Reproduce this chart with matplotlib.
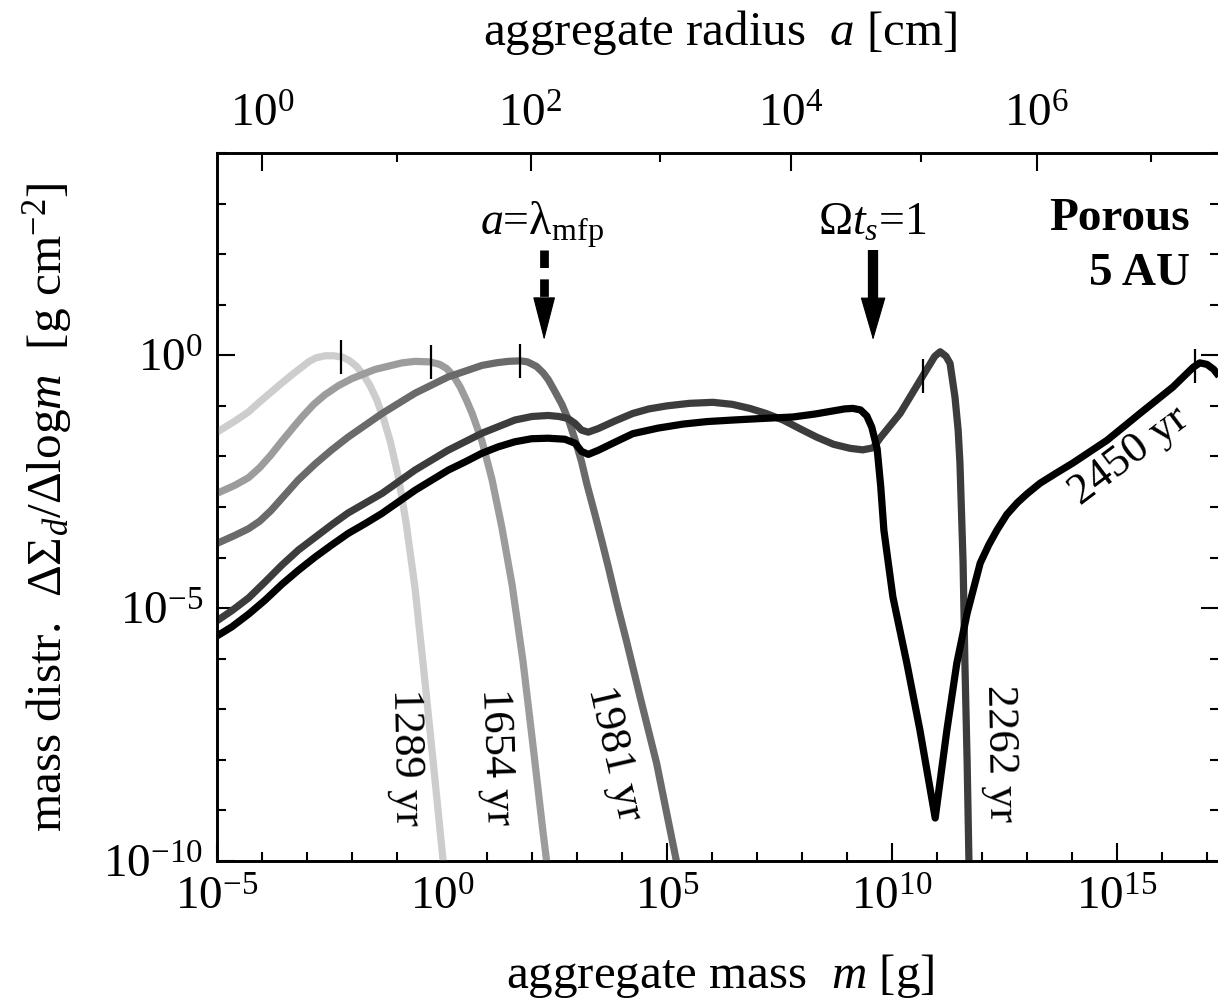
import numpy as np
import matplotlib
matplotlib.use('Agg')
import matplotlib.pyplot as plt
from matplotlib.ticker import FixedLocator, NullFormatter

plt.rcParams['font.family'] = ['Liberation Serif', 'DejaVu Serif']
plt.rcParams['mathtext.fontset'] = 'custom'
plt.rcParams['mathtext.rm'] = 'Liberation Serif'
plt.rcParams['mathtext.it'] = 'Liberation Serif:italic'
plt.rcParams['mathtext.bf'] = 'Liberation Serif:bold'

# ---------------- data (log10 values) ----------------
logm_1289 = [-5.0, -4.6, -4.3, -4.05, -3.8, -3.56, -3.3, -3.11, -2.95, -2.8, -2.6, -2.4, -2.2,
             -2.05, -1.9, -1.75, -1.6, -1.45, -1.3, -1.15, -0.97, -0.8, -0.6, -0.42, -0.2, 0.0, 0.12]
logy_1289 = [-1.52, -1.3, -1.12, -0.92, -0.73, -0.55, -0.36, -0.23, -0.12, -0.05, -0.01, -0.01,
             -0.04, -0.11, -0.22, -0.38, -0.6, -0.88, -1.25, -1.7, -2.4, -3.3, -4.6, -6.1, -8.0,
             -9.78, -10.8]

logm_1654 = [-5.0, -4.6, -4.3, -4.05, -3.8, -3.56, -3.3, -3.11, -2.85, -2.6, -2.3, -2.0, -1.49,
             -0.89, -0.6, -0.27, -0.05, 0.1, 0.25, 0.4, 0.55, 0.67, 0.89, 1.11, 1.33, 1.56, 1.8,
             2.02, 2.24, 2.38]
logy_1654 = [-2.73, -2.57, -2.42, -2.22, -1.97, -1.7, -1.42, -1.22, -0.97, -0.78, -0.6, -0.46,
             -0.28, -0.15, -0.12, -0.13, -0.18, -0.26, -0.4, -0.62, -0.9, -1.15, -1.7, -2.45,
             -3.4, -4.55, -6.05, -7.7, -9.39, -10.4]

logm_1981 = [-5.0, -4.6, -4.3, -4.05, -3.8, -3.56, -3.2, -2.82, -2.45, -2.09, -1.33, -0.6, 0.13,
             0.89, 1.2, 1.47, 1.75, 1.9, 2.1, 2.25, 2.36, 2.5, 2.67, 2.82, 2.96, 3.1, 3.22, 3.4,
             3.56, 3.7, 3.9, 4.1, 4.4, 4.77, 5.07, 5.3]
logy_1981 = [-3.72, -3.56, -3.43, -3.28, -3.07, -2.83, -2.47, -2.15, -1.87, -1.62, -1.15, -0.75,
             -0.43, -0.2, -0.15, -0.12, -0.11, -0.13, -0.22, -0.35, -0.48, -0.7, -0.98, -1.3,
             -1.68, -2.1, -2.55, -3.15, -3.7, -4.2, -4.95, -5.65, -6.75, -8.07, -9.39, -10.4]

logm_2262 = [-5.0, -4.67, -4.3, -3.93, -3.56, -3.19, -2.82, -2.45, -2.09, -1.33, -0.6, 0.13,
             0.89, 1.62, 2.0, 2.36, 2.6, 2.8, 2.96, 3.1, 3.25, 3.47, 3.84, 4.24, 4.6, 5.0, 5.5,
             6.02, 6.45, 6.84, 7.2, 7.58, 7.95, 8.33, 8.7, 9.07, 9.35, 9.58, 9.75, 10.18, 10.69,
             10.95, 11.07, 11.2, 11.29, 11.4, 11.47, 11.51, 11.58, 11.62, 11.67, 11.72]
logy_2262 = [-5.25, -5.05, -4.8, -4.48, -4.15, -3.85, -3.6, -3.35, -3.12, -2.73, -2.27, -1.88,
             -1.54, -1.28, -1.21, -1.19, -1.21, -1.25, -1.35, -1.48, -1.52, -1.45, -1.3, -1.15,
             -1.06, -1.0, -0.95, -0.93, -0.97, -1.05, -1.15, -1.28, -1.45, -1.62, -1.76, -1.84,
             -1.87, -1.83, -1.62, -1.15, -0.4, -0.02, 0.07, -0.02, -0.16, -0.83, -1.48, -2.13,
             -4.11, -6.09, -8.06, -10.5]

logm_2450 = [-5.0, -4.67, -4.3, -3.93, -3.56, -3.19, -2.82, -2.45, -2.08, -1.71, -1.34, -0.97,
             -0.6, -0.23, 0.14, 0.51, 0.88, 1.25, 1.62, 1.99, 2.36, 2.73, 2.96, 3.1, 3.25, 3.47,
             3.84, 4.24, 4.8, 5.36, 5.9, 6.47, 7.1, 7.8, 8.3, 8.69, 8.95, 9.13, 9.3, 9.44, 9.55,
             9.67, 9.75, 9.82, 10.02, 10.33, 10.62, 10.96, 11.22, 11.44, 11.67, 11.96, 12.15,
             12.33, 12.55, 12.78, 13.0, 13.29, 13.65, 14.02, 14.78, 15.51, 16.24, 16.69, 16.84,
             17.0, 17.15, 17.3]
logy_2450 = [-5.55, -5.37, -5.12, -4.84, -4.53, -4.25, -3.99, -3.75, -3.52, -3.33, -3.13, -2.9,
             -2.67, -2.47, -2.27, -2.11, -1.94, -1.81, -1.71, -1.65, -1.64, -1.66, -1.74, -1.9,
             -1.96, -1.88, -1.72, -1.55, -1.44, -1.36, -1.31, -1.28, -1.25, -1.22, -1.16, -1.1,
             -1.06, -1.05, -1.08, -1.2, -1.42, -1.85, -2.6, -3.46, -4.78, -6.09, -7.41, -9.15,
             -7.41, -6.09, -5.1, -4.11, -3.75, -3.46, -3.15, -2.92, -2.74, -2.53, -2.33, -2.13,
             -1.68, -1.15, -0.63, -0.24, -0.15, -0.18, -0.28, -0.45]

series_logm = [logm_1289, logm_1654, logm_1981, logm_2262, logm_2450]
series_logy = [logy_1289, logy_1654, logy_1981, logy_2262, logy_2450]
series_labels = ['1289 yr', '1654 yr', '1981 yr', '2262 yr', '2450 yr']
series_colors = ['#cdcdcd', '#9c9c9c', '#6a6a6a', '#3c3c3c', '#000000']
peak_mark_logm = [-2.24, -0.25, 1.73, 10.69, 16.73]

# label placement (log m, log y, rotation)
label_logm = [-0.8, 1.2, 3.84, 12.4, 15.26]
label_logy = [-7.94, -7.94, -7.87, -7.87, -1.98]
label_rot = [-89, -88, -77, -89, 37]

# bottom axis ticks (log10 m)
xmajor_exp = [-5, 0, 5, 10, 15]
ymajor_exp = [-10, -5, 0]

# top axis: radius exponent -> corresponding log10 mass
radius_exp = [0, 1, 2, 3, 4, 5, 6, 7]
radius_logm = [-4.0, -1.01, 1.97, 4.84, 7.76, 10.64, 13.22, 15.76]

# ---------------- figure ----------------
W, H = 1218, 1005
L, R, T, B = 217, 1219, 153, 861
fig = plt.figure(figsize=(W / 100, H / 100), dpi=100)
ax = fig.add_axes([L / W, (H - B) / H, (R - L) / W, (B - T) / H])
ax.set_xscale('log')
ax.set_yscale('log')
xmax_exp = -5 + (R - L) / 45.0
ax.set_xlim(1e-5, 10 ** xmax_exp)
ax.set_ylim(1e-10, 1e4)

for lm, ly, c in zip(series_logm, series_logy, series_colors):
    ax.plot(10 ** np.array(lm), 10 ** np.array(ly), color=c, lw=5.2,
            solid_joinstyle='round', solid_capstyle='butt', zorder=3)

for lm, ly, pm in zip(series_logm, series_logy, peak_mark_logm):
    ax.plot([10 ** pm], [10 ** np.interp(pm, lm, ly)], marker='|', ms=25, mew=1.6,
            color='k', ls='none', zorder=5)

for txt, lx, ly, r in zip(series_labels, label_logm, label_logy, label_rot):
    ax.text(10 ** lx, 10 ** ly, txt, rotation=r, rotation_mode='anchor',
            ha='center', va='center', fontsize=32, zorder=6)

# arrows
ax_dash = 2.27
ax_solid = 9.58
y_tail, y_base, y_tip = 2.08, 1.09, 0.3
ax.plot([10 ** ax_dash] * 2, [10 ** y_tail, 10 ** (y_base - 0.05)], color='k', lw=6.3,
        dashes=(2.0, 1.3), dash_capstyle='butt', zorder=6)
ax.annotate('', xy=(10 ** ax_dash, 10 ** y_tip), xytext=(10 ** ax_dash, 10 ** y_base),
            arrowprops=dict(arrowstyle='-|>,head_length=28.8,head_width=7.4', mutation_scale=1,
                            lw=0.8, color='k', shrinkA=0, shrinkB=0), zorder=6)
ax.plot([10 ** ax_solid] * 2, [10 ** y_tail, 10 ** (y_base - 0.05)], color='k', lw=7.4,
        solid_capstyle='butt', zorder=6)
ax.annotate('', xy=(10 ** ax_solid, 10 ** y_tip), xytext=(10 ** ax_solid, 10 ** y_base),
            arrowprops=dict(arrowstyle='-|>,head_length=28.8,head_width=8.4', mutation_scale=1,
                            lw=0.8, color='k', shrinkA=0, shrinkB=0), zorder=6)

ax.text(10 ** 2.23, 10 ** 2.38, r'$a$=$\mathrm{\lambda}_\mathrm{mfp}$', ha='center', va='baseline',
        fontsize=33)
ax.text(10 ** 9.56, 10 ** 2.38, r'$\Omega t_s$=1', ha='center', va='baseline', fontsize=33)
ax.text(0.971, 0.891, 'Porous', transform=ax.transAxes, ha='right', va='baseline',
        fontsize=34, fontweight='bold')
ax.text(0.971, 0.8136, '5 AU', transform=ax.transAxes, ha='right', va='baseline',
        fontsize=34, fontweight='bold')

# ticks
ax.xaxis.set_major_locator(FixedLocator([10.0 ** k for k in xmajor_exp]))
ax.xaxis.set_minor_locator(FixedLocator([10.0 ** k for k in range(-5, 18)]))
ax.xaxis.set_minor_formatter(NullFormatter())
ax.set_xticklabels([r'$10^{%d}$' % k for k in xmajor_exp])
ax.yaxis.set_major_locator(FixedLocator([10.0 ** k for k in ymajor_exp]))
ax.yaxis.set_minor_locator(FixedLocator([10.0 ** k for k in range(-10, 5)]))
ax.yaxis.set_minor_formatter(NullFormatter())
ax.set_yticklabels([r'$10^{%d}$' % k for k in ymajor_exp])
ax.tick_params(which='both', direction='in', top=False, right=True, width=1.5, labelsize=34)
ax.tick_params(which='major', length=13)
ax.tick_params(which='minor', length=6.5)
ax.tick_params(axis='x', pad=12)
ax.tick_params(axis='y', pad=10)
for s in ax.spines.values():
    s.set_linewidth(1.9)

ax2 = ax.twiny()
ax2.set_xscale('log')
ax2.set_xlim(ax.get_xlim())
maj = [10.0 ** lm for e, lm in zip(radius_exp, radius_logm) if e % 2 == 0]
mnr = [10.0 ** lm for e, lm in zip(radius_exp, radius_logm) if e % 2 == 1]
ax2.xaxis.set_major_locator(FixedLocator(maj))
ax2.xaxis.set_minor_locator(FixedLocator(mnr))
ax2.xaxis.set_minor_formatter(NullFormatter())
ax2.set_xticklabels([r'$10^{%d}$' % e for e in radius_exp if e % 2 == 0])
ax2.tick_params(which='both', direction='in', width=1.5, labelsize=34, pad=12)
ax2.tick_params(which='major', length=13)
ax2.tick_params(which='minor', length=6.5)
for s in ax2.spines.values():
    s.set_linewidth(1.9)

fig.text(720 / W, 1 - 988 / H, r'aggregate mass  $m$ [g]', ha='center', va='baseline', fontsize=35.3)
fig.text(720 / W, 1 - 45 / H, r'aggregate radius  $a$ [cm]', ha='center', va='baseline', fontsize=35.3)
fig.text(61 / W, 1 - 507 / H, r'mass distr.  $\Delta\Sigma_d/\Delta\mathrm{log}m$  [g cm$^{-2}$]',
         rotation=90, rotation_mode='anchor', ha='center', va='baseline', fontsize=35.5)

fig.savefig('out.png', dpi=100)
